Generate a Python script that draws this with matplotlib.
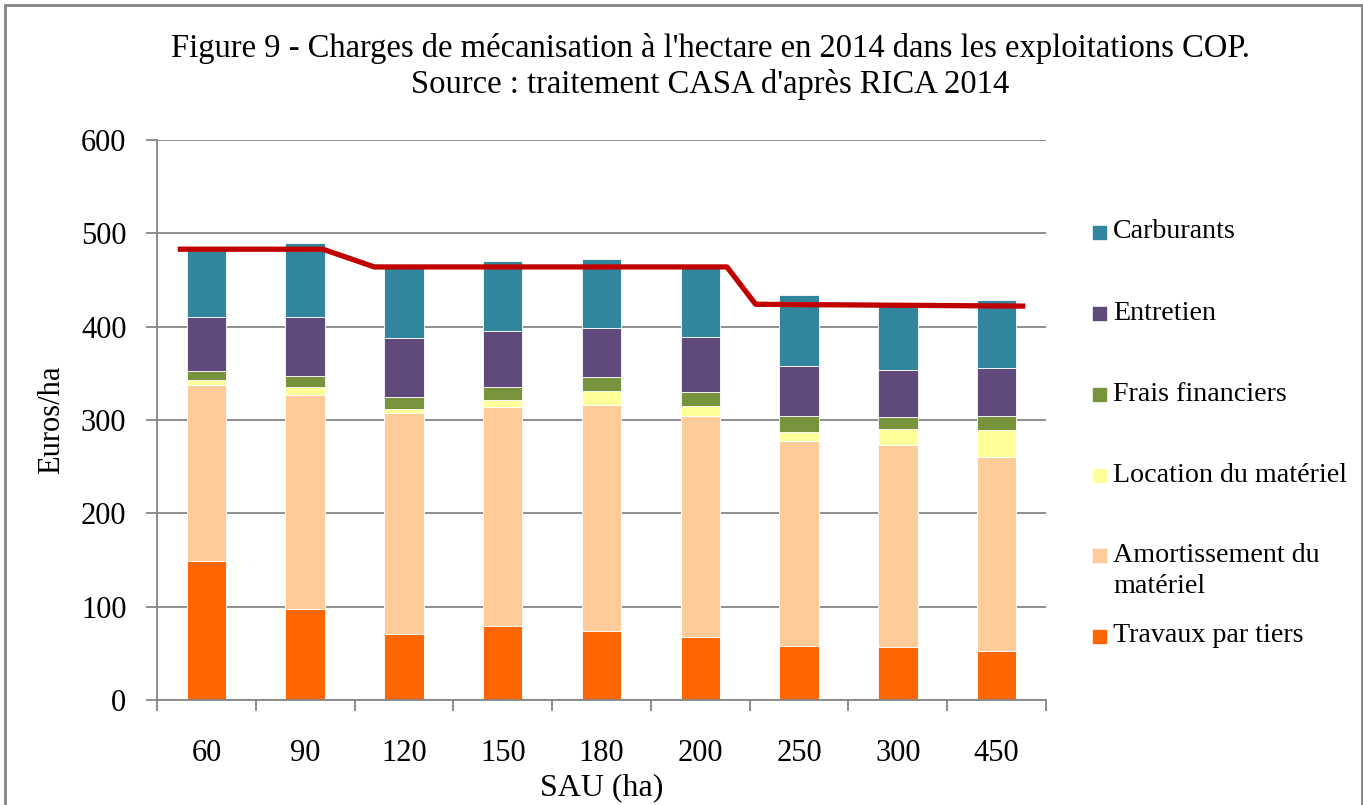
import numpy as np
import matplotlib
matplotlib.use("Agg")
import matplotlib.pyplot as plt
from matplotlib.patches import Rectangle

plt.rcParams['font.family'] = ['Liberation Serif', 'DejaVu Serif']

# data (euros/ha)
sau = ['60', '90', '120', '150', '180', '200', '250', '300', '450']
travaux = [149, 98, 71, 79, 74, 68, 58, 57, 52.5]
amortissement = [189, 229, 236, 234.5, 242, 236.5, 219, 216, 208]
location = [4.5, 8.5, 4.5, 7.5, 15, 11, 10.5, 17, 28.5]
frais = [10.5, 11.5, 13, 14.5, 15.5, 15, 17, 13, 15]
entretien = [57, 63, 63, 59.5, 52.5, 58.5, 53, 51, 52]
carburants = [72, 80, 76, 75.5, 74, 74, 76, 68, 73]

# red reference line (x in category units)
line_x = [-0.29, 1.18, 1.70, 5.27, 5.56, 8.29]
line_y = [483, 483, 464, 464, 424, 422]

series = [
    ('Travaux par tiers', travaux, '#FF6600'),
    ('Amortissement du\nmatériel', amortissement, '#FFCC99'),
    ('Location du matériel', location, '#FFFF99'),
    ('Frais financiers', frais, '#77933C'),
    ('Entretien', entretien, '#604A7B'),
    ('Carburants', carburants, '#31859C'),
]

fig = plt.figure(figsize=(13.63, 8.05), dpi=100)
ax = fig.add_axes([157/1363, 105/805, 889/1363, 560/805])

x = np.arange(len(sau))
bottom = np.zeros(len(sau))
for name, vals, col in series:
    ax.bar(x, vals, 0.4, bottom=bottom, color=col, edgecolor='white',
           linewidth=0.6, zorder=2)
    bottom += np.array(vals)

ax.plot(line_x, line_y, color='#C00000', linewidth=3.8, zorder=3,
        solid_capstyle='butt')

ax.set_xlim(-0.5, len(sau) - 0.5)
ax.set_ylim(0, 600)
ax.set_yticks(range(0, 601, 100))
ax.grid(axis='y', color='#868686', linewidth=1.3, zorder=0)
ax.set_xticks(x)
ax.set_xticklabels(sau)
ax.set_xticks(np.arange(-0.5, len(sau)), minor=True)
ax.tick_params(axis='x', which='major', length=0, pad=28, labelsize=22)
ax.tick_params(axis='x', which='minor', length=8, direction='out',
               color='#868686', width=1.3)
ax.tick_params(axis='y', length=8, direction='out', color='#868686',
               width=1.3, labelsize=22, pad=14)
for s in ['top', 'right']:
    ax.spines[s].set_visible(False)
for s in ['left', 'bottom']:
    ax.spines[s].set_color('#868686')
    ax.spines[s].set_linewidth(1.3)

ax.set_xlabel('SAU (ha)', fontsize=23, labelpad=4)
ax.set_ylabel('Euros/ha', fontsize=22, labelpad=11)

fig.text(0.521, 0.917, "Figure 9 - Charges de mécanisation à l'hectare en 2014 dans les exploitations COP.\n"
         "Source : traitement CASA d'après RICA 2014",
         ha='center', va='center', fontsize=23.5, linespacing=1.2)

# legend, drawn by hand to keep the Excel layout
leg_y = [232, 313, 394, 475, 555, 636]
for (name, vals, col), yy in zip(series[::-1], leg_y):
    fig.patches.append(Rectangle((1093/1363, 1 - (yy + 7)/805), 13/1363, 13/805,
                                 transform=fig.transFigure, color=col))
    ty = yy + 16 if '\n' in name else yy
    fig.text(1113/1363, 1 - ty/805, name, fontsize=20.2, va='center',
             linespacing=1.3)

fig.patches.append(Rectangle((0.004, -0.01), 0.995, 1.004, transform=fig.transFigure,
                             fill=False, edgecolor='#868686', linewidth=2))

fig.savefig('out.png', dpi=100)
